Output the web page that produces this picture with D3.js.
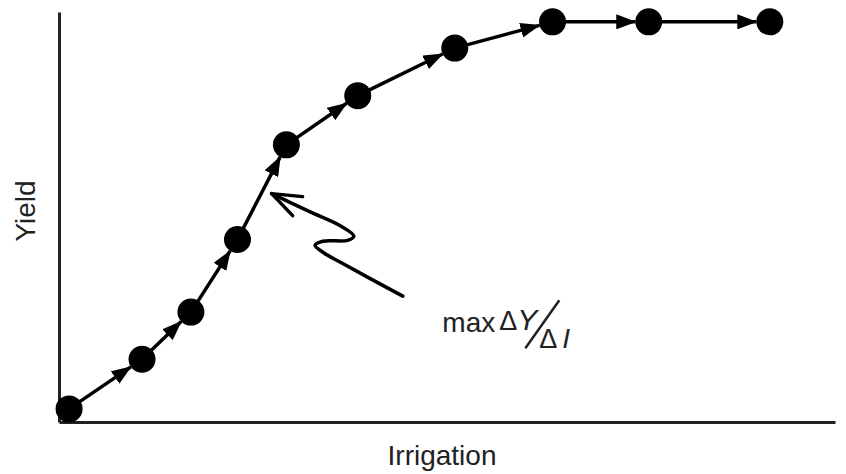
<!DOCTYPE html>
<html>
<head>
<meta charset="utf-8">
<script src="https://cdn.jsdelivr.net/npm/d3@7"></script>
<style>
  body { margin: 0; background: #fff; }
  text { font-family: "Liberation Sans", Arial, sans-serif; fill: #222; }
</style>
</head>
<body>
<div id="chart"></div>
<script>
// Irrigation (x) vs yield (y), arbitrary units
const irrigation = [0.13, 1.07, 1.70, 2.30, 2.93, 3.85, 5.10, 6.36, 7.60, 9.16];
const yieldVals = [0.32, 1.53, 2.68, 4.45, 6.76, 7.96, 9.12, 9.76, 9.76, 9.76];

// zigzag annotation path, in data units
const noteX = [2.74, 3.23, 3.63, 3.80, 3.72, 3.40, 3.30, 3.40, 3.65, 4.43];
const noteY = [5.57, 5.13, 4.78, 4.53, 4.43, 4.41, 4.31, 4.14, 3.87, 3.07];

const width = 846, height = 474;
const margin = { top: 12, right: 11, bottom: 52, left: 59 };

const svg = d3.select("#chart")
    .append("svg")
    .attr("width", width)
    .attr("height", height);

const x = d3.scaleLinear()
    .domain([0, 10])
    .range([margin.left, width - margin.right]);

const y = d3.scaleLinear()
    .domain([0, 10])
    .range([height - margin.bottom, margin.top]);

const r = 13.5;

svg.append("defs").append("marker")
    .attr("id", "head")
    .attr("viewBox", "0 0 20 15")
    .attr("refX", 19)
    .attr("refY", 7.5)
    .attr("markerWidth", 20)
    .attr("markerHeight", 15)
    .attr("markerUnits", "userSpaceOnUse")
    .attr("orient", "auto")
    .append("path")
    .attr("d", "M0,0 L20,7.5 L0,15 Z")
    .attr("fill", "#000");

// Axes (plain lines, no ticks)
svg.append("g")
    .attr("transform", `translate(0, ${y(0)})`)
    .call(d3.axisBottom(x).ticks(0).tickSize(0))
    .call(g => g.select(".domain").attr("stroke", "#222").attr("stroke-width", 3));

svg.append("g")
    .attr("transform", `translate(${x(0)}, 0)`)
    .call(d3.axisLeft(y).ticks(0).tickSize(0))
    .call(g => g.select(".domain").attr("stroke", "#222").attr("stroke-width", 3));

const pts = irrigation.map((v, i) => [x(v), y(yieldVals[i])]);
const segs = d3.pairs(pts);

function endAt(d, k) {
    const dx = d[1][0] - d[0][0], dy = d[1][1] - d[0][1];
    const len = Math.hypot(dx, dy);
    return k === 0 ? d[1][0] - dx / len * r : d[1][1] - dy / len * r;
}

// Arrowed segments from point to point
svg.selectAll("line.seg")
    .data(segs)
    .enter()
    .append("line")
    .attr("class", "seg")
    .attr("x1", d => d[0][0])
    .attr("y1", d => d[0][1])
    .attr("x2", d => endAt(d, 0))
    .attr("y2", d => endAt(d, 1))
    .attr("stroke", "#000")
    .attr("stroke-width", 3.5)
    .attr("marker-end", "url(#head)");

// Dots
svg.selectAll("circle")
    .data(pts)
    .enter()
    .append("circle")
    .attr("cx", d => d[0])
    .attr("cy", d => d[1])
    .attr("r", r)
    .attr("fill", "#000");

// Zigzag pointer
const notePts = noteX.map((v, i) => [x(v), y(noteY[i])]);
svg.append("path")
    .attr("d", d3.line().curve(d3.curveCatmullRom.alpha(0.5))(notePts))
    .attr("fill", "none")
    .attr("stroke", "#000")
    .attr("stroke-width", 3.5)
    .attr("stroke-linecap", "round")
    .attr("stroke-linejoin", "round");

// open arrowhead at tip
const tip = notePts[0];
svg.append("path")
    .attr("d", `M${tip[0] + 31},${tip[1] + 3} L${tip[0]},${tip[1]} L${tip[0] + 21},${tip[1] + 22}`)
    .attr("fill", "none")
    .attr("stroke", "#000")
    .attr("stroke-width", 3.5)
    .attr("stroke-linecap", "round")
    .attr("stroke-linejoin", "round");

// max ΔY/ΔI label
const lab = svg.append("g")
    .attr("transform", `translate(${x(4.94)}, ${y(2.19)})`);
lab.append("text")
    .attr("x", 0).attr("y", 0)
    .attr("font-size", "28px")
    .text("max");
lab.append("text")
    .attr("x", 57).attr("y", -2)
    .attr("font-size", "27px")
    .text("\u0394");
lab.append("text")
    .attr("x", 75).attr("y", -2)
    .attr("font-size", "30px")
    .attr("font-style", "italic")
    .text("Y");
lab.append("line")
    .attr("x1", 83).attr("y1", 16)
    .attr("x2", 117).attr("y2", -32)
    .attr("stroke", "#222")
    .attr("stroke-width", 2.5);
lab.append("text")
    .attr("x", 97).attr("y", 16)
    .attr("font-size", "27px")
    .text("\u0394");
lab.append("text")
    .attr("x", 120).attr("y", 16)
    .attr("font-size", "28px")
    .attr("font-style", "italic")
    .text("I");

// Axis titles
svg.append("text")
    .attr("x", 442)
    .attr("y", 465)
    .attr("text-anchor", "middle")
    .attr("font-size", "28px")
    .text("Irrigation");

svg.append("text")
    .attr("transform", "rotate(-90)")
    .attr("x", -211)
    .attr("y", 35)
    .attr("text-anchor", "middle")
    .attr("font-size", "28px")
    .text("Yield");
</script>
</body>
</html>
